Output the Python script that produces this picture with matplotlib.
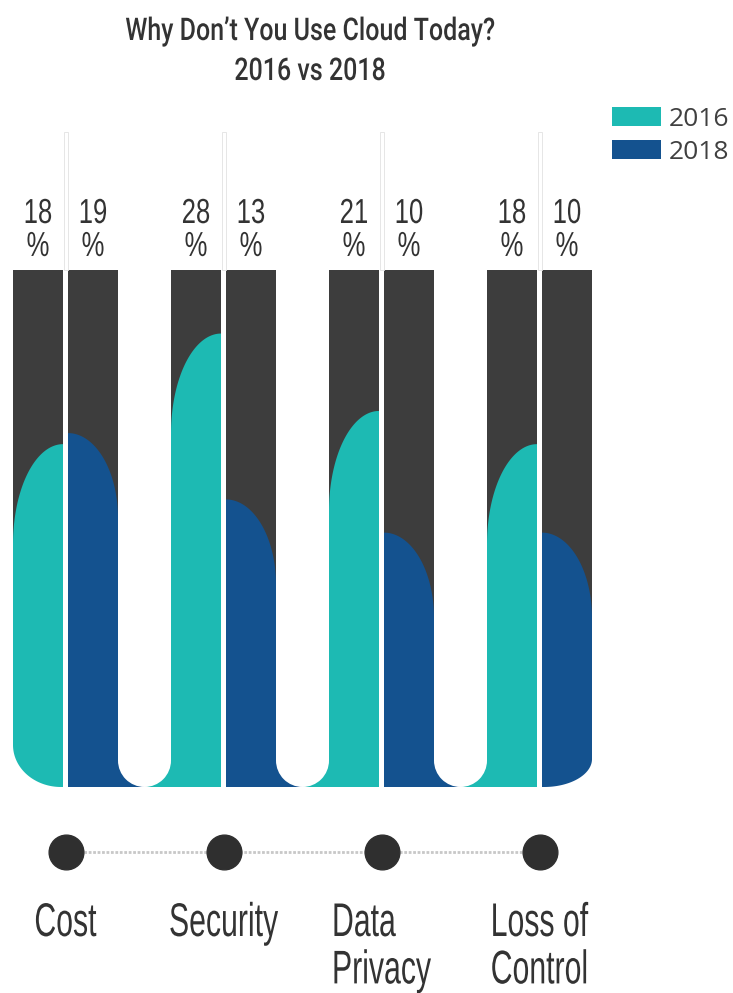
import numpy as np
import matplotlib.pyplot as plt
from matplotlib.patches import Polygon, Rectangle, Ellipse
from matplotlib.patheffects import AbstractPathEffect
from matplotlib.transforms import Affine2D

# Survey answers, share of respondents (%)
categories = ["Cost", "Security", "Data\nPrivacy", "Loss of\nControl"]
years = ["2016", "2018"]
values_2016 = [18, 28, 21, 18]
values_2018 = [19, 13, 10, 10]

teal = "#1dbab3"
blue = "#14528f"
grey = "#3d3d3d"
ink = "#333333"
sans = ["Liberation Sans", "DejaVu Sans"]


class Squeeze(AbstractPathEffect):
    """Narrow the glyphs horizontally around a fixed anchor (condensed look)."""

    def __init__(self, sx, x, transform):
        super().__init__()
        self.sx, self.x, self.transform = sx, x, transform

    def draw_path(self, renderer, gc, tpath, affine, rgbFace=None):
        x0 = self.transform.transform((self.x, 0))[0]
        narrow = Affine2D().translate(-x0, 0).scale(self.sx, 1).translate(x0, 0)
        renderer.draw_path(gc, tpath, affine + narrow, rgbFace)


W, H = 733, 993
fig = plt.figure(figsize=(W / 100, H / 100), dpi=100)
ax = fig.add_axes([0, 0, 1, 1])
ax.axis("off")

# one x unit per category, one y unit per percentage point
px_x, x0_px = 158.0, 65.5
px_y, base, base_px = 11.06, -13.0, 787
ax.set_xlim(-x0_px / px_x, (W - x0_px) / px_x)
ax.set_ylim(base - (H - base_px) / px_y, base + base_px / px_y)

col_w = 50 / px_x
half_gap = 2.5 / px_x
col_top = 33.7
line_top = 46.2
curve = {0: 100 / px_y, 1: 85 / px_y}
corners = {(0, 0): (48 / px_x, 42 / px_y), (3, 1): (48 / px_x, 28 / px_y)}


def column_shape(i, v, side):
    """Filled column with a rounded shoulder falling away from the divider."""
    d = -1 if side == 0 else 1
    inner = i + d * half_gap
    outer = inner + d * col_w
    a = curve[side]
    t = np.linspace(0, np.pi / 2, 80)
    xs = [inner] + list(inner + d * col_w * np.sin(t))
    ys = [base] + list(v - a + a * np.cos(t))
    if (i, side) in corners:
        crx, cry = corners[(i, side)]
        cx, cy = outer - d * crx, base + cry
        xs += list(cx + d * crx * np.cos(t))
        ys += list(cy - cry * np.sin(t))
    else:
        xs.append(outer)
        ys.append(base)
    return np.column_stack([xs, ys]), min(inner, outer), v - a


for side, (vals, color) in enumerate([(values_2016, teal), (values_2018, blue)]):
    for i, v in enumerate(vals):
        pts, left, shoulder = column_shape(i, v, side)
        ax.add_patch(Rectangle((left, shoulder - 2), col_w, col_top - shoulder + 2,
                               facecolor=grey, edgecolor="none", zorder=1))
        ax.add_patch(Polygon(pts, closed=True, facecolor=color, edgecolor="none", zorder=2))
        cx = left + col_w / 2
        ax.text(cx, base + (base_px - 263) / px_y, f"{v}\n%",
                ha="center", va="bottom", fontsize=25, linespacing=1.0,
                color=ink, family=sans, zorder=5,
                path_effects=[Squeeze(0.74, cx, ax.transData)])

# rounded white gaps between the groups, joined by colour at the bottom
for i in range(len(categories) - 1):
    left = i + half_gap + col_w
    right = i + 1 - half_gap - col_w
    cx = (left + right) / 2
    rx = (right - left) / 2
    ry = rx * px_x / px_y
    ax.add_patch(Rectangle((left, base), cx - left, ry, facecolor=blue,
                           edgecolor="none", zorder=2))
    ax.add_patch(Rectangle((cx, base), right - cx, ry, facecolor=teal,
                           edgecolor="none", zorder=2))
    ax.add_patch(Ellipse((cx, base + ry), 2 * rx, 2 * ry, facecolor="white",
                         edgecolor="none", zorder=3))

# thin divider lines above each pair
for i in range(len(categories)):
    ax.add_patch(Rectangle((i - 2 / px_x, col_top), 4 / px_x, line_top - col_top,
                           facecolor="white", edgecolor="#e2e2e2", lw=0.6, zorder=1))

# timeline of dots with category names
xs = np.arange(len(categories))
dot_y = base - (852 - base_px) / px_y
ax.plot(xs, [dot_y] * len(xs), color="#c8c8c8", lw=2, ls=(0, (1, 0.6)), zorder=4)
ax.plot(xs, [dot_y] * len(xs), "o", ms=25, color="#2f2f2f", zorder=5)
for i, cat in enumerate(categories):
    ax.text(i, base - (902 - base_px) / px_y, cat, ha="center", va="top",
            multialignment="left", fontsize=34, linespacing=1.1,
            color=ink, family=sans,
            path_effects=[Squeeze(0.64, i, ax.transData)])

# title
for text, y in [("Why Don\u2019t You Use Cloud Today?", 40), ("2016 vs 2018", 80)]:
    fig.text(310 / W, 1 - y / H, text, ha="center", va="baseline", fontsize=22.5,
             color=ink, family=["Roboto", "DejaVu Sans"], weight="medium",
             path_effects=[Squeeze(0.8, 310 / W, fig.transFigure)])

# legend
for k, (year, color) in enumerate(zip(years, [teal, blue])):
    top = 107 + 33 * k
    fig.patches.append(Rectangle((612 / W, 1 - (top + 19) / H), 49 / W, 19 / H,
                                 facecolor=color, edgecolor="none",
                                 transform=fig.transFigure, figure=fig))
    fig.text(669 / W, 1 - (top + 19) / H, year, ha="left", va="baseline",
             fontsize=19, color="#404040", family=["Open Sans", "DejaVu Sans"])

fig.savefig("out.png", dpi=100, facecolor="white")
